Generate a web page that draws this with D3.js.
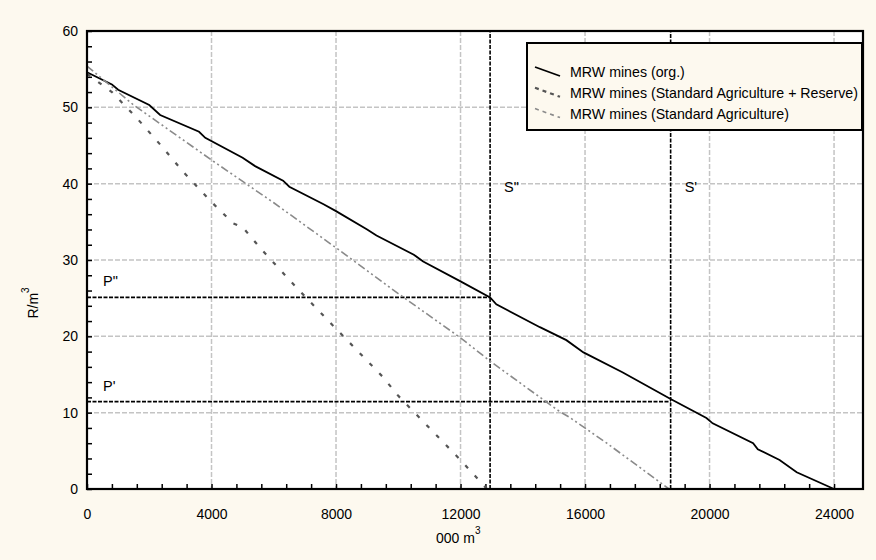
<!DOCTYPE html>
<html>
<head>
<meta charset="utf-8">
<script src="https://cdn.jsdelivr.net/npm/d3@7"></script>
<style>
  html, body { margin: 0; padding: 0; background: #fdf9ef; }
  svg { display: block; font-family: "Liberation Sans", Arial, sans-serif; }
</style>
</head>
<body>
<div id="chart"></div>
<script>
// series: [000 m3, R/m3]
const orgPoints = [
  [0, 54.6], [800, 53.0], [1000, 52.3], [2000, 50.3], [2350, 49.0], [3600, 46.8],
  [3800, 46.0], [5000, 43.4], [5400, 42.3], [6300, 40.4], [6500, 39.6], [7600, 37.3],
  [8000, 36.4], [9000, 34.0], [9300, 33.2], [10500, 30.7], [10800, 29.8], [12000, 27.2],
  [12950, 25.1], [13150, 24.2], [14550, 21.2], [15400, 19.5], [15950, 17.9], [17200, 15.3],
  [18750, 11.8], [19900, 9.3], [20100, 8.6], [21400, 6.0], [21550, 5.2], [22250, 3.8],
  [22800, 2.2], [24000, 0]
]
const reservePoints = [
  [0, 54.4], [800, 52.0], [1600, 48.6], [2400, 44.9], [3100, 41.5], [4000, 37.6],
  [4700, 34.8], [5000, 34.3], [5600, 31.4], [6750, 26.3], [8000, 21.0], [9500, 14.7],
  [10000, 12.2], [11000, 8.0], [12000, 3.8], [12850, 0]
]
const agriPoints = [
  [0, 55.4], [1500, 50.3], [4000, 43.1], [6000, 37.5], [8000, 31.6], [10000, 25.6],
  [12000, 19.8], [13000, 16.6], [15200, 10.1], [15500, 9.4], [16700, 6.0], [18700, 0]
]
const seriesNames = [
  "MRW mines (org.)",
  "MRW mines (Standard Agriculture + Reserve)",
  "MRW mines (Standard Agriculture)"
]
// reference lines S'' / S' (x) and P'' / P' (y)
const sMarks = [12950, 18750]
const pMarks = [25.1, 11.45]
const sLabels = ["S\"", "S'"]
const pLabels = ["P\"", "P'"]
const xTicks = [0, 4000, 8000, 12000, 16000, 20000, 24000]
const yTicks = [0, 10, 20, 30, 40, 50, 60]

const W = 876, H = 560
const plot = { left: 87, right: 863, top: 31, bottom: 489 }

const svg = d3.select("#chart").append("svg")
  .attr("width", W)
  .attr("height", H)

svg.append("rect")
  .attr("width", W).attr("height", H)
  .attr("fill", "#fdf9ef")

const x = d3.scaleLinear().domain([0, 24930]).range([plot.left, plot.right])
const y = d3.scaleLinear().domain([0, 60]).range([plot.bottom, plot.top])

// 绘图区
svg.append("rect")
  .attr("x", plot.left).attr("y", plot.top)
  .attr("width", plot.right - plot.left)
  .attr("height", plot.bottom - plot.top)
  .attr("fill", "#fff")

// grid
const grid = svg.append("g")
  .attr("stroke", "#c4c4c4")
  .attr("stroke-width", 1.5)
  .attr("stroke-dasharray", "5,2")
grid.selectAll(".gx")
  .data(xTicks.slice(1))
  .join("line")
  .attr("x1", d => x(d)).attr("x2", d => x(d))
  .attr("y1", plot.top).attr("y2", plot.bottom)
grid.selectAll(".gy")
  .data(yTicks.slice(1, -1))
  .join("line")
  .attr("y1", d => y(d)).attr("y2", d => y(d))
  .attr("x1", plot.left).attr("x2", plot.right)

// minor ticks, pointing inward
const xMinor = d3.range(0, 24001, 800)
const yMinor = d3.range(0, 61, 2)
svg.append("g")
  .call(d3.axisTop(x).tickValues(xMinor).tickSize(5).tickFormat(""))
  .attr("transform", `translate(0,${plot.bottom})`)
  .call(g => g.select(".domain").remove())
  .call(g => g.selectAll("line").attr("stroke", "#000").attr("stroke-width", 1.5))
svg.append("g")
  .call(d3.axisRight(y).tickValues(yMinor).tickSize(5).tickFormat(""))
  .attr("transform", `translate(${plot.left},0)`)
  .call(g => g.select(".domain").remove())
  .call(g => g.selectAll("line").attr("stroke", "#000").attr("stroke-width", 1.5))

// tick labels
svg.append("g")
  .call(d3.axisBottom(x).tickValues(xTicks).tickSize(0).tickPadding(20).tickFormat(d3.format("d")))
  .attr("transform", `translate(0,${plot.bottom})`)
  .call(g => g.select(".domain").remove())
  .call(g => g.selectAll("text")
    .attr("font-size", 14)
    .attr("font-family", "Liberation Sans, Arial, sans-serif")
    .attr("fill", "#000"))
svg.append("g")
  .call(d3.axisLeft(y).tickValues(yTicks).tickSize(0).tickPadding(9))
  .attr("transform", `translate(${plot.left},0)`)
  .call(g => g.select(".domain").remove())
  .call(g => g.selectAll("text")
    .attr("font-size", 14)
    .attr("font-family", "Liberation Sans, Arial, sans-serif")
    .attr("fill", "#000"))

// axis titles
const xTitle = svg.append("text")
  .attr("x", 436).attr("y", 543)
  .attr("font-size", 14)
xTitle.append("tspan").text("000 m")
xTitle.append("tspan").attr("font-size", 10).attr("dy", -9).text("3")

const yTitle = svg.append("text")
  .attr("transform", "translate(38,303) rotate(-90)")
  .attr("text-anchor", "middle")
  .attr("font-size", 14)
yTitle.append("tspan").text("R/m")
yTitle.append("tspan").attr("font-size", 10).attr("dy", -9).text("3")

// reference lines
const refs = svg.append("g")
  .attr("stroke", "#000")
  .attr("stroke-width", 1.6)
  .attr("stroke-dasharray", "4,1.5")
refs.selectAll(".s")
  .data(sMarks)
  .join("line")
  .attr("x1", d => x(d)).attr("x2", d => x(d))
  .attr("y1", plot.bottom).attr("y2", plot.top)
refs.selectAll(".p")
  .data(pMarks)
  .join("line")
  .attr("x1", plot.left).attr("x2", (d, i) => x(sMarks[i]))
  .attr("y1", d => y(d)).attr("y2", d => y(d))

svg.append("g")
  .attr("font-size", 14.5)
  .selectAll("text")
  .data(sLabels)
  .join("text")
  .attr("x", (d, i) => x(sMarks[i]) + 14)
  .attr("y", 192)
  .text(d => d)
svg.append("g")
  .attr("font-size", 14.5)
  .selectAll("text")
  .data(pLabels)
  .join("text")
  .attr("x", 103)
  .attr("y", (d, i) => y(pMarks[i]) - 11)
  .text(d => d)

// series lines
const line = d3.line().x(d => x(d[0])).y(d => y(d[1]))
const styles = [
  { stroke: "#000", width: 1.8, dash: null },
  { stroke: "#555", width: 2.2, dash: "4,10" },
  { stroke: "#8a8a8a", width: 1.6, dash: "8,3,2,3,2,3" }
]
const allSeries = [orgPoints, reservePoints, agriPoints]

svg.append("g")
  .attr("fill", "none")
  .selectAll("path")
  .data(allSeries)
  .join("path")
  .attr("d", line)
  .attr("stroke", (d, i) => styles[i].stroke)
  .attr("stroke-width", (d, i) => styles[i].width)
  .attr("stroke-dasharray", (d, i) => styles[i].dash)

// frame
svg.append("rect")
  .attr("x", plot.left).attr("y", plot.top)
  .attr("width", plot.right - plot.left)
  .attr("height", plot.bottom - plot.top)
  .attr("fill", "none")
  .attr("stroke", "#000")
  .attr("stroke-width", 2.2)

// legend
const legend = svg.append("g")
  .attr("transform", "translate(527,43)")
legend.append("rect")
  .attr("width", 335).attr("height", 87)
  .attr("fill", "#fdf9ef")
  .attr("stroke", "#000")
  .attr("stroke-width", 2)
const items = legend.selectAll("g")
  .data(seriesNames)
  .join("g")
  .attr("transform", (d, i) => `translate(0,${34 + i * 20.8})`)
items.append("line")
  .attr("x1", 8).attr("y1", -10)
  .attr("x2", 33).attr("y2", -1)
  .attr("stroke", (d, i) => styles[i].stroke)
  .attr("stroke-width", (d, i) => styles[i].width)
  .attr("stroke-dasharray", (d, i) => styles[i].dash ? "4,4" : null)
items.append("text")
  .attr("x", 43)
  .attr("font-size", 14.2)
  .text(d => d)
</script>
</body>
</html>
